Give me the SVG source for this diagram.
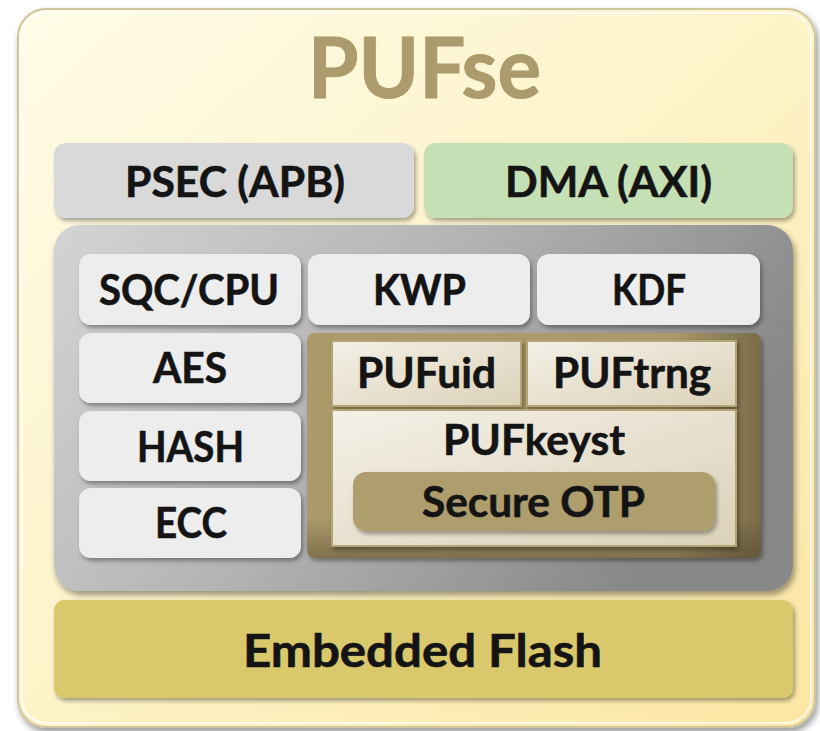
<svg xmlns="http://www.w3.org/2000/svg" width="820" height="731" viewBox="0 0 820 731">
<defs>
  <linearGradient id="gOuter" x1="0" y1="0" x2="1" y2="1">
    <stop offset="0" stop-color="#fffce8"/>
    <stop offset="0.5" stop-color="#fdf3c8"/>
    <stop offset="1" stop-color="#fce6a2"/>
  </linearGradient>
  <linearGradient id="gGray" x1="0" y1="0" x2="1" y2="0.35">
    <stop offset="0" stop-color="#d4d4d4"/>
    <stop offset="0.5" stop-color="#b4b4b4"/>
    <stop offset="1" stop-color="#888888"/>
  </linearGradient>
  <linearGradient id="gCream" x1="0" y1="0" x2="1" y2="1">
    <stop offset="0" stop-color="#f3f0e7"/>
    <stop offset="1" stop-color="#dcd2b9"/>
  </linearGradient>
  <linearGradient id="gDarkR" x1="0" y1="0" x2="1" y2="0">
    <stop offset="0.8" stop-color="#3d3320" stop-opacity="0"/>
    <stop offset="1" stop-color="#3d3320" stop-opacity="0.45"/>
  </linearGradient>
  <linearGradient id="gDarkB" x1="0" y1="0" x2="0" y2="1">
    <stop offset="0.82" stop-color="#3d3320" stop-opacity="0"/>
    <stop offset="1" stop-color="#3d3320" stop-opacity="0.4"/>
  </linearGradient>
  <filter id="sh" x="-10%" y="-10%" width="125%" height="130%">
    <feDropShadow dx="2" dy="3" stdDeviation="2" flood-color="#000" flood-opacity="0.35"/>
  </filter>
  <filter id="shBig" x="-5%" y="-5%" width="112%" height="115%">
    <feDropShadow dx="2" dy="4" stdDeviation="3" flood-color="#000" flood-opacity="0.4"/>
  </filter>
</defs>
<style>
  text { font-family: Lato, "Open Sans", "Liberation Sans", sans-serif; font-weight: bold; text-anchor: middle; fill: #141414; stroke: #141414; stroke-width: 0.6px; }
  .lbl { font-size: 42px; }
  .white { fill: #ededed; filter: url(#sh); }
  .cream { fill: url(#gCream); stroke: #b5a474; stroke-width: 2; filter: url(#sh); }
</style>

<g id="frame">
  <rect x="18" y="9" width="797" height="718" rx="28" fill="url(#gOuter)" stroke="#cfc6a0" stroke-width="2" filter="url(#shBig)"/>
  <rect x="22" y="13" width="789" height="710" rx="25" fill="none" stroke="#ffffff" stroke-opacity="0.7" stroke-width="2"/>
  <text x="424.5" y="98" style="font-size:84px;fill:#ac9b6c;stroke:#ac9b6c;stroke-width:1px" textLength="233" lengthAdjust="spacingAndGlyphs">PUFse</text>
</g>

<g id="psec">
  <rect x="54" y="143" width="360" height="75" rx="12" fill="#d9d9d9" filter="url(#sh)"/>
  <text class="lbl" x="235" y="197" textLength="220" lengthAdjust="spacingAndGlyphs">PSEC (APB)</text>
</g>

<g id="dma">
  <rect x="424" y="143" width="369" height="75" rx="12" fill="#c5e0b4" filter="url(#sh)"/>
  <text class="lbl" x="608.5" y="197" textLength="207" lengthAdjust="spacingAndGlyphs">DMA (AXI)</text>
</g>

<g id="core">
  <rect x="54" y="225" width="739" height="366" rx="26" fill="url(#gGray)" filter="url(#shBig)"/>
</g>

<g id="sqc">
  <rect class="white" x="79" y="254" width="222" height="71" rx="12"/>
  <text class="lbl" x="189" y="305" textLength="180" lengthAdjust="spacingAndGlyphs">SQC/CPU</text>
</g>
<g id="kwp">
  <rect class="white" x="308" y="254" width="222" height="71" rx="12"/>
  <text class="lbl" x="419.5" y="305" textLength="93" lengthAdjust="spacingAndGlyphs">KWP</text>
</g>
<g id="kdf">
  <rect class="white" x="537" y="254" width="223" height="71" rx="12"/>
  <text class="lbl" x="649" y="305" textLength="74" lengthAdjust="spacingAndGlyphs">KDF</text>
</g>
<g id="aes">
  <rect class="white" x="79" y="333" width="222" height="70" rx="12"/>
  <text class="lbl" x="190" y="383" textLength="74" lengthAdjust="spacingAndGlyphs">AES</text>
</g>
<g id="hash">
  <rect class="white" x="79" y="411" width="222" height="70" rx="12"/>
  <text class="lbl" x="190.5" y="462" textLength="107" lengthAdjust="spacingAndGlyphs">HASH</text>
</g>
<g id="ecc">
  <rect class="white" x="79" y="488" width="222" height="70" rx="12"/>
  <text class="lbl" x="191" y="538" textLength="72" lengthAdjust="spacingAndGlyphs">ECC</text>
</g>

<g id="puf">
  <rect x="307" y="333" width="454" height="225" rx="8" fill="#ab9b6a" filter="url(#sh)"/>
  <rect x="307" y="333" width="454" height="225" rx="8" fill="url(#gDarkR)"/>
  <rect x="307" y="333" width="454" height="225" rx="8" fill="url(#gDarkB)"/>
</g>

<g id="pufuid">
  <rect class="cream" x="332" y="341" width="189" height="65"/>
  <text class="lbl" x="426.5" y="388" textLength="139" lengthAdjust="spacingAndGlyphs">PUFuid</text>
</g>
<g id="puftrng">
  <rect class="cream" x="527" y="341" width="209" height="65"/>
  <text class="lbl" x="632" y="388" textLength="158" lengthAdjust="spacingAndGlyphs">PUFtrng</text>
</g>
<g id="pufkeyst">
  <rect class="cream" x="332" y="410" width="404" height="136"/>
  <text class="lbl" x="534" y="455" textLength="182" lengthAdjust="spacingAndGlyphs">PUFkeyst</text>
</g>
<g id="otp">
  <rect x="353" y="472" width="362" height="59" rx="13" fill="#ae9e6e" filter="url(#sh)"/>
  <text class="lbl" x="533.5" y="517" textLength="223" lengthAdjust="spacingAndGlyphs">Secure OTP</text>
</g>

<g id="flash">
  <rect x="54" y="600" width="739" height="98" rx="10" fill="#dac96c" filter="url(#sh)"/>
  <text x="422.5" y="667" style="font-size:45px" textLength="359" lengthAdjust="spacingAndGlyphs">Embedded Flash</text>
</g>

<g id="connectors"/>
</svg>
